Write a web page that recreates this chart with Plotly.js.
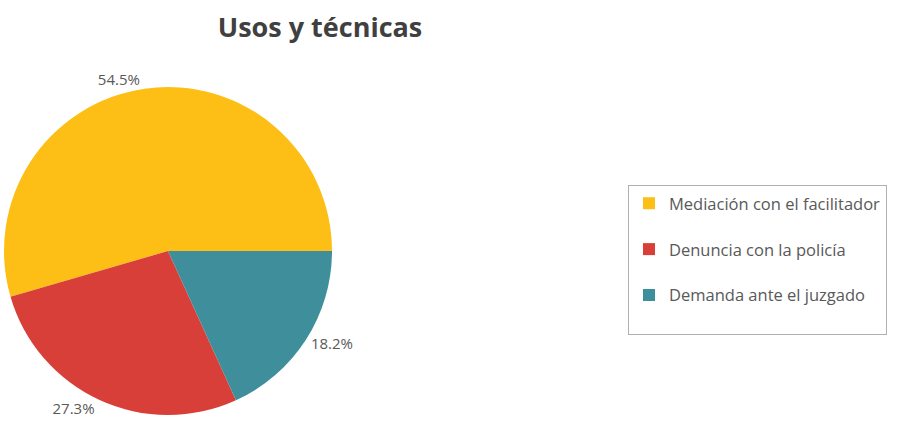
<!DOCTYPE html>
<html>
<head>
<meta charset="utf-8">
<script src="https://cdn.plot.ly/plotly-3.0.1.min.js"></script>
<style>html,body{margin:0;padding:0;background:#fff;}#chart{width:903px;height:444px;}</style>
</head>
<body>
<div id="chart"></div>
<script>
var categories = ["Mediación con el facilitador", "Denuncia con la policía", "Demanda ante el juzgado"];
var percentValues = [54.5, 27.3, 18.2];
var sliceColors = ["#FDBE16", "#D73F38", "#3F8E9C"];

var total = percentValues.reduce(function (a, b) { return a + b; }, 0);
// first slice starts at 3 o'clock and runs counterclockwise
var startRotation = 90 - 360 * percentValues[0] / total;

var W = 903, H = 444;
var cx = 168, cy = 251, r = 164;

var trace = {
  type: "pie",
  labels: categories.map(function (c) { return c + "<br>\u00a0"; }),
  values: percentValues,
  sort: false,
  direction: "counterclockwise",
  rotation: startRotation,
  marker: { colors: sliceColors, line: { width: 0 } },
  textinfo: "percent",
  textposition: "outside",
  textfont: { family: "Open Sans, sans-serif", size: 15, color: "#595959" },
  hoverinfo: "none",
  domain: {
    x: [(cx - r) / W, (cx + r) / W],
    y: [1 - (cy + r) / H, 1 - (cy - r) / H]
  }
};

var layout = {
  width: W,
  height: H,
  margin: { l: 0, r: 0, t: 0, b: 0 },
  paper_bgcolor: "#ffffff",
  font: { family: "Open Sans, sans-serif", color: "#595959" },
  title: {
    text: "<b>Usos y técnicas</b>",
    font: { family: "Open Sans, sans-serif", size: 27, color: "#404040" },
    xref: "container", yref: "container",
    x: 320 / W, xanchor: "center",
    y: 1 - 28 / H, yanchor: "middle"
  },
  showlegend: true,
  legend: {
    x: 628 / W, xanchor: "left",
    y: 1 - 185 / H, yanchor: "top",
    bgcolor: "#ffffff",
    bordercolor: "#b0b0b0",
    borderwidth: 1,
    valign: "top",
    font: { family: "Open Sans, sans-serif", size: 16.5, color: "#595959" }
  }
};

Plotly.newPlot("chart", [trace], layout, { displayModeBar: false, staticPlot: true });
</script>
</body>
</html>
